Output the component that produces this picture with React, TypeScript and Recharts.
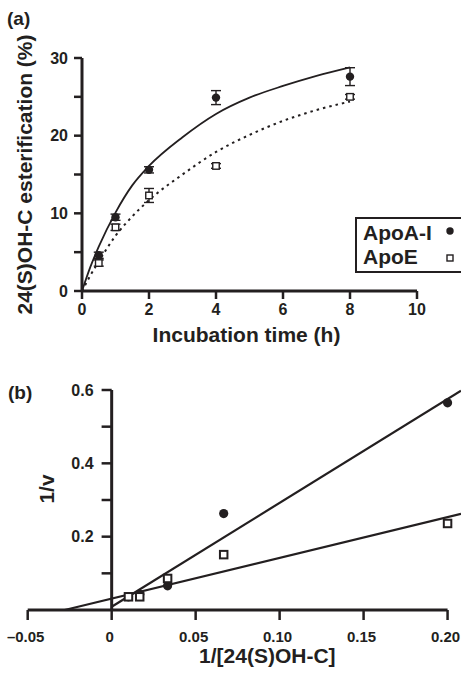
import React from 'react'
import { ComposedChart, Line, Scatter, XAxis, YAxis, ErrorBar, Legend, ReferenceLine } from 'recharts'

const INK = '#231f20'
const FONT = '"Liberation Sans", Arial, Helvetica, sans-serif'

// panel (a): esterification over time
const A_TIMES = [0.5, 1, 2, 4, 8]
const A_APOA1 = [4.6, 9.5, 15.6, 24.9, 27.6]
const A_APOA1_ERR = [0.4, 0.4, 0.4, 0.9, 1.15]
const A_APOE = [3.6, 8.2, 12.3, 16.1, 25.0]
const A_APOE_ERR = [0.4, 0.4, 0.9, 0.3, 0.3]
const A_FIT_X = [0, 0.25, 0.5, 1, 1.5, 2, 3, 4, 5, 6, 7, 8]
const A_FIT_APOA1 = [0, 3.1, 5.7, 10.1, 13.6, 16.1, 19.8, 22.8, 24.9, 26.4, 27.7, 28.8]
const A_FIT_APOE = [0, 2.0, 3.8, 7.1, 9.6, 11.7, 15.0, 17.9, 20.1, 21.9, 23.3, 24.4]
const A_X_TICKS = [0, 2, 4, 6, 8, 10]
const A_Y_TICKS = [0, 5, 10, 15, 20, 25, 30]

// panel (b): double reciprocal plot
const B_X = [0.01, 0.0167, 0.0333, 0.0667, 0.2]
const B_APOA1 = [0.036, 0.043, 0.066, 0.263, 0.565]
const B_APOE = [0.036, 0.036, 0.086, 0.151, 0.236]
const B_FIT_APOA1_X = [0, 0.208]
const B_FIT_APOA1_Y = [0.009, 0.598]
const B_FIT_APOE_X = [-0.028, 0.208]
const B_FIT_APOE_Y = [0, 0.262]
const B_X_TICKS = [-0.05, 0, 0.05, 0.1, 0.15, 0.2]
const B_X_LABELS = ['\u20130.05', '0', '0.05', '0.10', '0.15', '0.20']
const B_Y_TICKS = [0.1, 0.2, 0.3, 0.4, 0.5, 0.6]
const B_Y_LABELS = ['', '0.2', '', '0.4', '', '0.6']

const SERIES = ['ApoA-I', 'ApoE']

const pts = (xs: number[], ys: number[], errs?: number[]) =>
  xs.map((x, i) => ({ x, y: ys[i], err: errs ? errs[i] : 0 }))

const dot = (r: number) => (p: any) => <circle cx={p.cx} cy={p.cy} r={r} fill={INK} />
const box = (s: number, sw: number) => (p: any) => (
  <rect x={p.cx - s / 2} y={p.cy - s / 2} width={s} height={s} fill="#fff" stroke={INK} strokeWidth={sw} />
)

const tickStyle = { fill: INK, fontSize: 16, fontWeight: 700 }
const titleStyle = { fill: INK, fontSize: 21, fontWeight: 700 }

const BTick = (p: any) => {
  const i = B_X_TICKS.indexOf(p.payload.value)
  return (
    <text x={p.x - 2} y={p.y} dy="0.71em" textAnchor="middle" fill={INK} fontSize={15} fontWeight={700}>
      {B_X_LABELS[i] ?? ''}
    </text>
  )
}

function LegendBox() {
  return (
    <div style={{ border: `2px solid ${INK}`, padding: '2px 0 2px 6px', width: 120, background: '#fff', fontSize: 21, fontWeight: 700, lineHeight: '24px', color: INK, fontFamily: FONT }}>
      {SERIES.map((name, i) => (
        <div key={name} style={{ position: 'relative', height: 24 }}>
          {name}
          <svg width={12} height={12} style={{ position: 'absolute', left: 81, top: i === 0 ? 4 : 7 }}>
            {i === 0
              ? <circle cx={6} cy={6} r={3.7} fill={INK} />
              : <rect x={3} y={3} width={6} height={6} fill="#fff" stroke={INK} strokeWidth={1.4} />}
          </svg>
        </div>
      ))}
    </div>
  )
}

export default function App() {
  return (
    <div style={{ position: 'absolute', left: 0, top: 0, width: 461, height: 678, fontFamily: FONT, background: '#fff', overflow: 'hidden' }}>
      <div style={{ position: 'absolute', left: 7, top: 9, fontSize: 19, fontWeight: 700, lineHeight: '19px', color: INK }}>(a)</div>
      <div style={{ position: 'absolute', left: 8, top: 383, fontSize: 19, fontWeight: 700, lineHeight: '19px', color: INK }}>(b)</div>

      <div style={{ position: 'absolute', left: 0, top: 0 }}>
        <ComposedChart width={461} height={350} margin={{ top: 58, right: 44, bottom: 29, left: 12 }}>
          <XAxis type="number" dataKey="x" domain={[0, 10]} ticks={A_X_TICKS} interval={0}
            stroke={INK} axisLine={{ stroke: INK, strokeWidth: 3 }} tickLine={{ stroke: INK, strokeWidth: 2.5 }}
            tickSize={8} tickMargin={5} tick={tickStyle} height={30}
            label={{ value: 'Incubation time (h)', position: 'bottom', offset: 6, dx: -3, ...titleStyle }} />
          <YAxis type="number" dataKey="y" domain={[0, 30]} ticks={A_Y_TICKS} interval={0}
            tickFormatter={(v: number) => (v % 10 === 0 ? String(v) : '')}
            stroke={INK} axisLine={{ stroke: INK, strokeWidth: 3 }} tickLine={{ stroke: INK, strokeWidth: 2.5 }}
            tickSize={8} tickMargin={6} tick={tickStyle} width={70}
            label={{ value: '24(S)OH-C esterification (%)', angle: -90, position: 'insideLeft', offset: 13, style: { textAnchor: 'middle' }, ...titleStyle }} />
          <Line data={pts(A_FIT_X, A_FIT_APOA1)} dataKey="y" type="monotone" stroke={INK} strokeWidth={1.8}
            dot={false} legendType="none" isAnimationActive={false} />
          <Line data={pts(A_FIT_X, A_FIT_APOE)} dataKey="y" type="monotone" stroke={INK} strokeWidth={2}
            strokeDasharray="2.5 4" dot={false} legendType="none" isAnimationActive={false} />
          <Scatter name={SERIES[0]} data={pts(A_TIMES, A_APOA1, A_APOA1_ERR)} shape={dot(4.2)} isAnimationActive={false}>
            <ErrorBar dataKey="err" direction="y" width={5} stroke={INK} strokeWidth={1.4} />
          </Scatter>
          <Scatter name={SERIES[1]} data={pts(A_TIMES, A_APOE, A_APOE_ERR)} shape={box(6.5, 1.4)} isAnimationActive={false}>
            <ErrorBar dataKey="err" direction="y" width={5} stroke={INK} strokeWidth={1.4} />
          </Scatter>
          <Legend layout="horizontal" verticalAlign="middle" align="center" content={() => <LegendBox />}
            wrapperStyle={{ left: 355, top: 217, width: 130 }} />
        </ComposedChart>
      </div>

      <div style={{ position: 'absolute', left: 0, top: 350 }}>
        <ComposedChart width={461} height={328} margin={{ top: 40, right: 0, bottom: 38, left: 27.7 }}>
          <XAxis type="number" dataKey="x" domain={[-0.05, 0.208]} ticks={B_X_TICKS} interval={0}
            stroke={INK} axisLine={false} tickLine={{ stroke: INK, strokeWidth: 2.5 }}
            tickSize={10} tickMargin={11} tick={<BTick />} height={30}
            label={{ value: '1/[24(S)OH-C]', position: 'bottom', offset: 8, dx: 23, ...titleStyle }} />
          <YAxis type="number" dataKey="y" domain={[0, 0.6]} hide />
          <ReferenceLine segment={[{ x: -0.05, y: 0 }, { x: 0.2, y: 0 }]} stroke={INK} strokeWidth={3} />
          <ReferenceLine segment={[{ x: 0, y: 0 }, { x: 0, y: 0.6 }]} stroke={INK} strokeWidth={3}
            label={{ value: '1/v', angle: -90, position: 'left', offset: 65, dy: -11, style: { textAnchor: 'middle' }, ...titleStyle }} />
          {B_Y_TICKS.map((v, i) => (
            <ReferenceLine key={v} segment={[{ x: -0.006, y: v }, { x: 0, y: v }]} stroke={INK} strokeWidth={2.5}
              label={B_Y_LABELS[i] ? { value: B_Y_LABELS[i], position: 'left', offset: 8, ...tickStyle } : undefined} />
          ))}
          <Line data={pts(B_FIT_APOA1_X, B_FIT_APOA1_Y)} dataKey="y" type="linear" stroke={INK} strokeWidth={2.2}
            dot={false} legendType="none" isAnimationActive={false} />
          <Line data={pts(B_FIT_APOE_X, B_FIT_APOE_Y)} dataKey="y" type="linear" stroke={INK} strokeWidth={2.2}
            dot={false} legendType="none" isAnimationActive={false} />
          <Scatter name={SERIES[0]} data={pts(B_X, B_APOA1)} shape={dot(4.6)} isAnimationActive={false} />
          <Scatter name={SERIES[1]} data={pts(B_X, B_APOE)} shape={box(7.5, 2)} isAnimationActive={false} />
        </ComposedChart>
      </div>
    </div>
  )
}
